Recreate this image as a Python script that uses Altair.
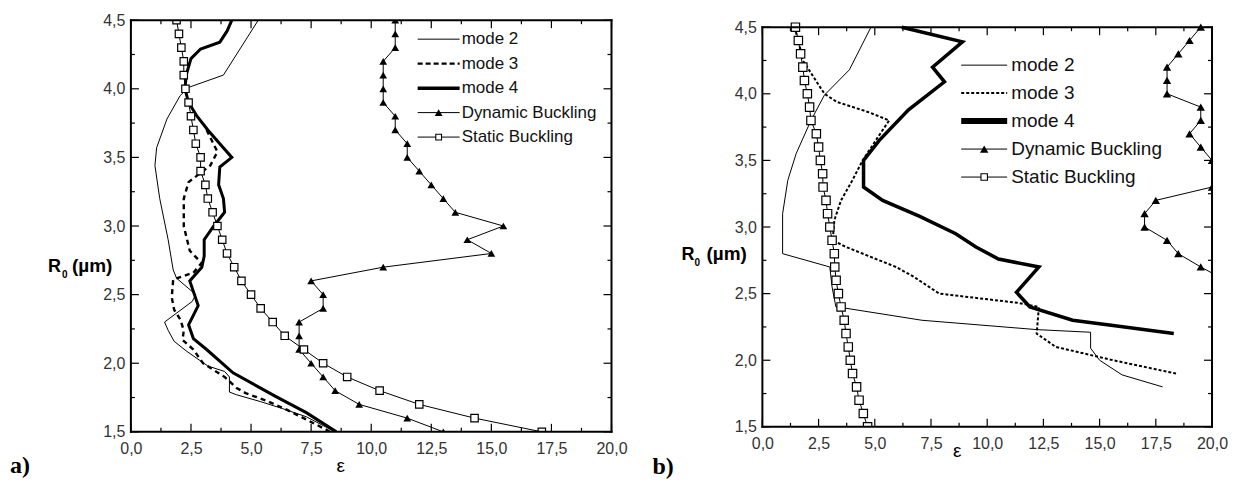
import altair as alt
import pandas as pd

# ---------------- data ----------------
R_GRID = [4.5, 4.4, 4.3, 4.2, 4.1, 4.0, 3.9, 3.8, 3.7, 3.6, 3.5, 3.4, 3.3, 3.2, 3.1,
          3.0, 2.9, 2.8, 2.7, 2.6, 2.5, 2.4, 2.3, 2.2, 2.1, 2.0, 1.9, 1.8, 1.7, 1.6, 1.5]

# panel a
A_STATIC_EPS = [1.9, 2.0, 2.1, 2.2, 2.2, 2.27, 2.4, 2.5, 2.6, 2.7, 2.9, 2.9, 3.1, 3.2, 3.4,
                3.6, 3.8, 4.0, 4.3, 4.6, 5.0, 5.4, 5.9, 6.4, 7.2, 8.0, 9.0, 10.35, 12.0, 14.3, 17.1]
A_DYN_EPS = [11.0, 11.0, 11.0, 10.5, 10.5, 10.5, 10.5, 11.0, 11.0, 11.5, 11.5, 12.0, 12.5, 13.0, 13.5,
             15.5, 14.0, 15.0, 10.5, 7.5, 8.0, 8.0, 7.0, 7.0, 7.0, 7.5, 8.0, 8.5, 9.5, 11.5, 13.0]
A_M2_EPS = [5.3, 3.85, 2.4, 2.05, 1.5, 1.07, 1.0, 1.2, 1.55, 1.76, 1.9, 2.7, 2.55, 1.4, 1.55, 1.8,
            2.3, 3.2, 3.9, 4.1, 4.1, 4.4, 5.4, 6.3, 6.8, 7.3, 8.5]
A_M2_R = [4.5, 4.1, 4.01, 3.95, 3.78, 3.57, 3.44, 3.2, 2.9, 2.68, 2.62, 2.5, 2.45, 2.3, 2.24, 2.16,
          2.09, 1.98, 1.94, 1.9, 1.79, 1.77, 1.72, 1.67, 1.64, 1.61, 1.5]
A_M3_EPS = [3.15, 3.6, 3.3, 2.4, 2.2, 2.2, 2.45, 2.94, 2.6, 1.76, 1.7, 1.8, 2.05, 2.2, 2.15, 2.6,
            3.0, 3.9, 4.4, 4.8, 5.6, 6.5, 7.3, 8.3]
A_M3_R = [3.7, 3.54, 3.44, 3.32, 3.2, 3.0, 2.82, 2.73, 2.66, 2.61, 2.48, 2.39, 2.32, 2.24, 2.17, 2.1,
          2.0, 1.9, 1.82, 1.78, 1.73, 1.66, 1.59, 1.5]
A_M4_EPS = [4.2, 4.0, 3.7, 2.9, 2.5, 2.3, 2.25, 2.4, 2.75, 3.2, 3.7, 4.2, 3.7, 3.65, 3.85, 3.9, 3.45,
            3.05, 3.05, 2.95, 2.45, 2.8, 2.4, 2.6, 3.15, 4.25, 6.0, 7.3, 8.55]
A_M4_R = [4.5, 4.42, 4.34, 4.29, 4.22, 4.1, 4.0, 3.9, 3.8, 3.7, 3.6, 3.5, 3.43, 3.3, 3.2, 3.1, 3.0,
          2.9, 2.78, 2.7, 2.6, 2.42, 2.28, 2.18, 2.1, 1.93, 1.76, 1.64, 1.5]

# panel b
B_STATIC_EPS = [1.47, 1.6, 1.7, 1.8, 1.87, 2.0, 2.1, 2.16, 2.4, 2.5, 2.58, 2.68, 2.7, 2.83, 2.9,
                3.0, 3.1, 3.2, 3.22, 3.28, 3.38, 3.5, 3.64, 3.72, 3.82, 3.91, 4.01, 4.19, 4.3, 4.49, 4.68]
B_DYN_R = [4.5, 4.4, 4.3, 4.2, 4.1, 4.0, 3.9, 3.8, 3.7, 3.6, 3.5, 3.4, 3.3, 3.2, 3.1, 3.0, 2.9, 2.8, 2.7, 2.6]
B_DYN_EPS = [19.5, 19.0, 18.5, 18.0, 18.0, 18.0, 19.5, 19.5, 19.0, 19.5, 20.0, 20.8, 20.0, 17.5, 17.0,
             17.0, 18.0, 18.5, 19.5, 20.6]
B_M2_EPS = [4.83, 3.87, 2.76, 2.16, 1.5, 1.13, 0.9, 0.9, 3.0, 3.1, 3.27, 3.72, 7.1, 12.2, 14.6, 14.6,
            15.0, 16.0, 17.8]
B_M2_R = [4.5, 4.18, 3.99, 3.8, 3.55, 3.35, 3.1, 2.8, 2.7, 2.55, 2.4, 2.39, 2.3, 2.23, 2.21, 2.09,
          2.0, 1.89, 1.8]
B_M3_EPS = [1.42, 1.6, 1.8, 2.76, 3.3, 4.76, 5.64, 5.2, 4.46, 4.0, 3.5, 3.2, 3.13, 3.72, 4.76, 5.94,
            6.7, 7.87, 11.4, 12.3, 12.2, 13.05, 15.6, 18.4]
B_M3_R = [4.5, 4.4, 4.25, 4.0, 3.94, 3.86, 3.8, 3.69, 3.5, 3.35, 3.2, 3.05, 2.9, 2.85, 2.78, 2.7,
          2.63, 2.5, 2.43, 2.4, 2.2, 2.1, 2.0, 1.9]
B_M4_EPS = [6.2, 8.9, 7.57, 8.1, 6.5, 5.2, 4.5, 4.5, 5.35, 7.0, 8.6, 9.5, 10.5, 12.3, 11.3, 11.9,
            13.8, 15.6, 18.3]
B_M4_R = [4.5, 4.39, 4.2, 4.09, 3.88, 3.65, 3.5, 3.3, 3.2, 3.08, 2.95, 2.85, 2.76, 2.7, 2.51, 2.4,
          2.3, 2.26, 2.2]

X_MAJOR = [0, 2.5, 5, 7.5, 10, 12.5, 15, 17.5, 20]
X_MINOR = [1.25, 3.75, 6.25, 8.75, 11.25, 13.75, 16.25, 18.75]
Y_MAJOR = [1.5, 2.0, 2.5, 3.0, 3.5, 4.0, 4.5]
Y_MINOR = [1.75, 2.25, 2.75, 3.25, 3.75, 4.25]

LEGEND_LABELS = ["mode 2", "mode 3", "mode 4", "Dynamic Buckling", "Static Buckling"]

FONT = "Liberation Sans"
LABEL_EXPR = "replace(format(datum.value, '.1f'), '.', ',')"


def line_df(eps, r):
    return pd.DataFrame({"e": eps, "R": r, "i": list(range(len(eps)))})


def one(t=""):
    return pd.DataFrame({"t": [t]})


def text_layer(s, x, y, size, weight="normal", font=FONT, align="left", baseline="alphabetic", color="black"):
    return alt.Chart(one(s)).mark_text(
        align=align, baseline=baseline, font=font, fontSize=size, fontWeight=weight, color=color
    ).encode(x=alt.value(x), y=alt.value(y), text="t:N")


def rule(x, y, x2=None, y2=None, **kw):
    enc = dict(x=alt.value(x), y=alt.value(y))
    if x2 is not None:
        enc["x2"] = alt.value(x2)
    if y2 is not None:
        enc["y2"] = alt.value(y2)
    return alt.Chart(one()).mark_rule(color="black", **kw).encode(**enc)


def panel(c):
    W, H, T = c["W"], c["H"], c["top"]   # plot frame spans y = T .. H inside the group
    xs = alt.Scale(domain=[0, 20], nice=False, zero=False)
    ys = alt.Scale(domain=[1.5, 4.5], nice=False, zero=False, range=[H, T])
    common = dict(labelExpr=LABEL_EXPR, ticks=False, tickSize=0, domain=False, grid=False, title=None,
                  labelFont=FONT, labelFontSize=c["lab_fs"], labelColor="#333", labelFlush=False,
                  labelOverlap=False)
    xax = alt.Axis(values=X_MAJOR, labelPadding=c["xpad"], **common)
    yax = alt.Axis(values=Y_MAJOR, labelPadding=c["ypad"], **common)

    def X(f):
        return alt.X(f, scale=xs, axis=xax)

    def Y(f):
        return alt.Y(f, scale=ys, axis=yax)

    layers = []
    # mode curves
    for eps, r, style in c["modes"]:
        layers.append(alt.Chart(line_df(eps, r)).mark_line(color="black", clip=True, **style)
                      .encode(x=X("e:Q"), y=Y("R:Q"), order="i:Q"))
    # dynamic buckling
    dyn = line_df(c["dyn_e"], c["dyn_r"])
    layers.append(alt.Chart(dyn).mark_line(color="black", strokeWidth=1, clip=True)
                  .encode(x=X("e:Q"), y=Y("R:Q"), order="i:Q"))
    layers.append(alt.Chart(dyn).mark_point(shape="triangle-up", filled=True, color="black", opacity=1,
                                            size=c["tri"], clip=True)
                  .encode(x=X("e:Q"), y=Y("R:Q")))
    # static buckling
    st = line_df(c["static_e"], R_GRID)
    layers.append(alt.Chart(st).mark_line(color="black", strokeWidth=1, clip=True)
                  .encode(x=X("e:Q"), y=Y("R:Q"), order="i:Q"))
    layers.append(alt.Chart(st).mark_point(shape="square", filled=True, fill="white", stroke="black",
                                           strokeWidth=1.2, opacity=1, size=c["sq"], clip=True)
                  .encode(x=X("e:Q"), y=Y("R:Q")))

    # frame
    fw = dict(strokeWidth=2, strokeCap="square")
    layers += [rule(0, T, x2=W, **fw), rule(0, H, x2=W, **fw),
               rule(0, T, y2=H, **fw), rule(W, T, y2=H, **fw)]

    # inward ticks on all four sides
    for vals, L in ((X_MAJOR, 8), (X_MINOR, 4)):
        d = pd.DataFrame({"e": vals})
        layers.append(alt.Chart(d).mark_rule(color="black", strokeWidth=1.2)
                      .encode(x=X("e:Q"), y=alt.value(H), y2=alt.value(H - L)))
        layers.append(alt.Chart(d).mark_rule(color="black", strokeWidth=1.2)
                      .encode(x=X("e:Q"), y=alt.value(T), y2=alt.value(T + L)))
    for vals, L in ((Y_MAJOR, 8), (Y_MINOR, 4)):
        d = pd.DataFrame({"R": vals})
        layers.append(alt.Chart(d).mark_rule(color="black", strokeWidth=1.2)
                      .encode(y=Y("R:Q"), x=alt.value(0), x2=alt.value(L)))
        layers.append(alt.Chart(d).mark_rule(color="black", strokeWidth=1.2)
                      .encode(y=Y("R:Q"), x=alt.value(W), x2=alt.value(W - L)))

    # legend
    lx0, lx1, ltx, ly0, ldy = c["leg"]
    mid = (lx0 + lx1) / 2
    for k, lab in enumerate(LEGEND_LABELS):
        yy = T + ly0 + k * ldy
        layers.append(rule(lx0, yy, x2=lx1, **c["leg_styles"][k]))
        if k == 3:
            layers.append(alt.Chart(one()).mark_point(shape="triangle-up", filled=True, color="black",
                                                      opacity=1, size=c["tri"])
                          .encode(x=alt.value(mid), y=alt.value(yy)))
        if k == 4:
            layers.append(alt.Chart(one()).mark_point(shape="square", filled=True, fill="white",
                                                      stroke="black", strokeWidth=1.1, opacity=1,
                                                      size=c["sq"] * 0.6)
                          .encode(x=alt.value(mid), y=alt.value(yy)))
        layers.append(text_layer(lab, ltx, yy, c["leg_fs"], baseline="middle", color="#111"))

    # axis titles and panel label
    rx, ry, rs, sx, px = c["title"]
    layers.append(text_layer("R", rx, T + ry, rs, weight="bold"))
    layers.append(text_layer("0", sx, T + ry + 6, 10, weight="bold"))
    layers.append(text_layer("(\u00b5m)", px, T + ry, rs + 1, weight="bold"))
    ex, ey, es = c["eps"]
    layers.append(text_layer("\u03b5", ex, T + ey, es, align="center", baseline="middle"))
    pl, plx, ply, pls = c["plabel"]
    layers.append(text_layer(pl, plx, T + ply, pls, weight="bold", font="Liberation Serif"))

    return alt.layer(*layers).properties(width=W, height=H)


cfg_a = dict(
    W=481, H=412, top=0, lab_fs=16, xpad=9, ypad=6,
    modes=[
        (A_M2_EPS, A_M2_R, dict(strokeWidth=1)),
        (A_M3_EPS, A_M3_R, dict(strokeWidth=2.4, strokeDash=[5, 4])),
        (A_M4_EPS, A_M4_R, dict(strokeWidth=3)),
    ],
    dyn_e=A_DYN_EPS, dyn_r=R_GRID, static_e=A_STATIC_EPS, tri=60, sq=55,
    leg=(287, 329, 331, 19, 24.5), leg_fs=17,
    leg_styles=[dict(strokeWidth=1), dict(strokeWidth=2.4, strokeDash=[5, 3]), dict(strokeWidth=3.5),
                dict(strokeWidth=1), dict(strokeWidth=1)],
    title=(-83, 252, 18, -69, -59), eps=(210, 446, 19), plabel=("a)", -121, 453, 24),
)

cfg_b = dict(
    W=450, H=407, top=7, lab_fs=16, xpad=9, ypad=6,
    modes=[
        (B_M2_EPS, B_M2_R, dict(strokeWidth=1)),
        (B_M3_EPS, B_M3_R, dict(strokeWidth=2, strokeDash=[3, 2])),
        (B_M4_EPS, B_M4_R, dict(strokeWidth=3.5)),
    ],
    dyn_e=B_DYN_EPS, dyn_r=B_DYN_R, static_e=B_STATIC_EPS, tri=70, sq=70,
    leg=(199, 245, 249, 38, 28), leg_fs=19,
    leg_styles=[dict(strokeWidth=1), dict(strokeWidth=2, strokeDash=[3, 2]), dict(strokeWidth=6),
                dict(strokeWidth=1), dict(strokeWidth=1)],
    title=(-81, 233, 18, -68, -56), eps=(195, 424, 19), plabel=("b)", -110, 447, 24),
)

chart = alt.hconcat(panel(cfg_a), panel(cfg_b), spacing=25).configure_view(
    stroke="transparent", strokeWidth=0
).properties(padding={"left": 2, "top": 4, "right": 0, "bottom": 0}, background="white")

chart.save("out.html", embed_options={"renderer": "svg", "actions": False})
